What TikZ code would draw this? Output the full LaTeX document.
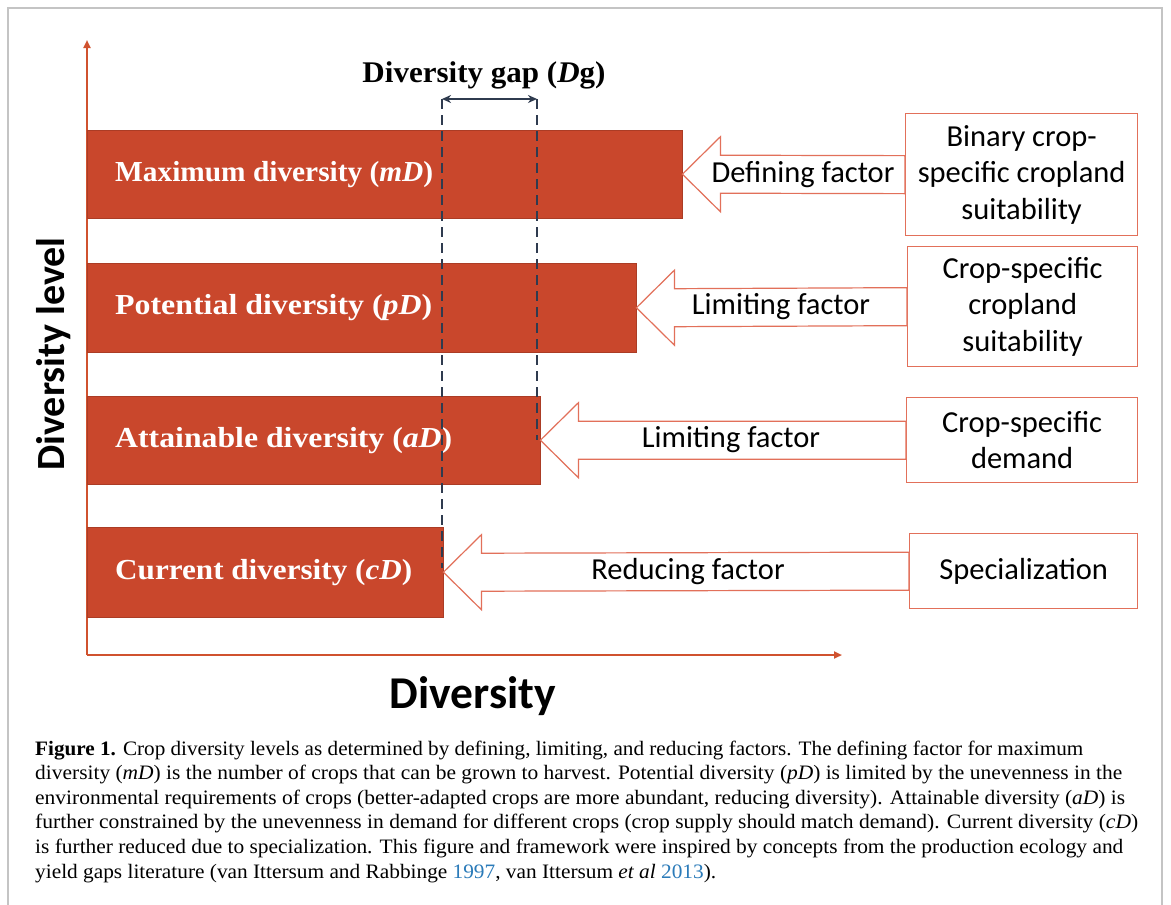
\documentclass[tikz,border=0pt]{standalone}
\usepackage{fontspec}
\usepackage{graphicx}
\setmainfont{Liberation Serif}
\newfontfamily\calfont{Carlito}
\usetikzlibrary{calc,arrows.meta}
\definecolor{barred}{HTML}{C9472C}
\definecolor{axisred}{HTML}{D0522F}
\definecolor{linered}{HTML}{E2705A}
\definecolor{gapblue}{HTML}{2F3B4F}
\definecolor{framegray}{HTML}{C4C4C4}
\definecolor{cite}{HTML}{2B7BB9}
\tikzset{
  bar/.style={fill=barred, draw=barred!85!black, line width=0.4pt, anchor=north west, inner sep=0pt},
  barlabel/.style={anchor=west, text=white, font=\fontsize{29}{34}\selectfont\bfseries, inner sep=0pt},
  factorbox/.style={draw=linered, line width=1.3pt, fill=white, anchor=north west, inner sep=0pt},
  boxtext/.style={align=center, font=\calfont\fontsize{30.5}{36.5}\selectfont, inner sep=0pt},
  arrowtext/.style={font=\calfont\fontsize{30.5}{36}\selectfont, inner sep=0pt},
  blockarrow/.style={draw=linered, line width=1.2pt, fill=white, line join=miter},
  axis/.style={draw=axisred, line width=2pt, -{Triangle[length=8pt,width=7pt]}},
  gapline/.style={draw=gapblue, line width=1.8pt, dash pattern=on 10pt off 6pt},
  capline/.style={anchor=base west, inner sep=0pt, font=\fontsize{20.5}{24}\selectfont},
}
\newcommand{\blockarr}[2]{%
  \draw[blockarrow] (#1.east) -- ($(#1.east)+(38,-37.5)$) -- ($(#1.east)+(38,-19)$)
    -- ($(#2.west)+(0,-19)$) -- ($(#2.west)+(0,19)$) -- ($(#1.east)+(38,19)$)
    -- ($(#1.east)+(38,37.5)$) -- cycle;}
\begin{document}
\begin{tikzpicture}[x=1pt,y=-1pt]
\useasboundingbox (0,0) rectangle (1171,905);
\fill[white] (0,0) rectangle (1171,905);
% frame
\draw[framegray, line width=1.2pt] (8,905) -- (8,8) -- (1162,8) -- (1162,905);

% axes
\coordinate (origin) at (87,655);
\coordinate (ytop) at (87,40);
\coordinate (xend) at (842,655);
\draw[axis] (origin) -- (ytop);
\draw[axis] (origin) -- (xend);

% bars
\node[bar, minimum width=595pt, minimum height=88pt] (b1) at (87,130) {};
\node[bar, minimum width=549pt, minimum height=89pt] (b2) at (87,263) {};
\node[bar, minimum width=453pt, minimum height=88pt] (b3) at (87,396) {};
\node[bar, minimum width=356pt, minimum height=90pt] (b4) at (87,527) {};

\node[barlabel] (l1) at (115,175) {\resizebox{318pt}{\height}{Maximum diversity (\textit{mD})}};
\node[barlabel] (l2) at (115,308) {\resizebox{317pt}{\height}{Potential diversity (\textit{pD})}};
\node[barlabel] (l3) at (115,441) {\resizebox{337pt}{\height}{Attainable diversity (\textit{aD})}};
\node[barlabel] (l4) at (115,573) {\resizebox{297pt}{\height}{Current diversity (\textit{cD})}};

% factor boxes
\node[factorbox, minimum width=232pt, minimum height=122pt] (f1) at (905,113) {};
\node[factorbox, minimum width=230pt, minimum height=120pt] (f2) at (907,246) {};
\node[factorbox, minimum width=231pt, minimum height=85pt] (f3) at (906,397) {};
\node[factorbox, minimum width=228pt, minimum height=75pt] (f4) at (909,533) {};

\node[boxtext] (t1) at (f1.center) {Binary crop-\\specific cropland\\suitability};
\node[boxtext] (t2) at (f2.center) {Crop-specific\\cropland\\suitability};
\node[boxtext] (t3) at (f3.center) {Crop-specific\\demand};
\node[boxtext] (t4) at (f4.center) {Specialization};

% block arrows
\blockarr{b1}{f1}
\blockarr{b2}{f2}
\blockarr{b3}{f3}
\blockarr{b4}{f4}

\node[arrowtext] (a1) at (803,175) {Defining factor};
\node[arrowtext] (a2) at (781,307) {Limiting factor};
\node[arrowtext] (a3) at (731,440) {Limiting factor};
\node[arrowtext] (a4) at (688,572) {Reducing factor};

% diversity gap
\coordinate (gl) at (442,99);
\coordinate (gr) at (537,99);
\coordinate (gle) at (442,568);
\coordinate (gre) at (537,440);
\draw[gapline] (gl) -- (gle);
\draw[gapline] (gr) -- (gre);
\draw[gapblue, line width=1.8pt, {Stealth[length=9pt,width=8pt]}-{Stealth[length=9pt,width=8pt]}] (gl) -- (gr);
\node[inner sep=0pt, font=\fontsize{30}{34}\selectfont\bfseries] (gap) at (484,75) {\resizebox{243pt}{\height}{Diversity gap (\textit{D}g)}};

% axis labels
\node[inner sep=0pt, rotate=90, font=\calfont\fontsize{40}{48}\selectfont\bfseries] (ylab) at (54,354) {Diversity level};
\node[inner sep=0pt, font=\calfont\fontsize{45.5}{52}\selectfont\bfseries] (xlab) at (473,696) {Diversity};

% caption
\node[capline] (c1) at (35,755) {\resizebox{1048pt}{\height}{\textbf{Figure 1.} Crop diversity levels as determined by defining, limiting, and reducing factors. The defining factor for maximum}};
\node[capline] (c2) at (35,779.6) {\resizebox{1087pt}{\height}{diversity (\textit{mD}) is the number of crops that can be grown to harvest. Potential diversity (\textit{pD}) is limited by the unevenness in the}};
\node[capline] (c3) at (35,804.2) {\resizebox{1090pt}{\height}{environmental requirements of crops (better-adapted crops are more abundant, reducing diversity). Attainable diversity (\textit{aD}) is}};
\node[capline] (c4) at (35,828.8) {\resizebox{1103pt}{\height}{further constrained by the unevenness in demand for different crops (crop supply should match demand). Current diversity (\textit{cD})}};
\node[capline] (c5) at (35,853.4) {\resizebox{1088pt}{\height}{is further reduced due to specialization. This figure and framework were inspired by concepts from the production ecology and}};
\node[capline] (c6) at (35,878) {\resizebox{681pt}{\height}{yield gaps literature (van Ittersum and Rabbinge \textcolor{cite}{1997}, van Ittersum \textit{et al} \textcolor{cite}{2013}).}};
\end{tikzpicture}
\end{document}
